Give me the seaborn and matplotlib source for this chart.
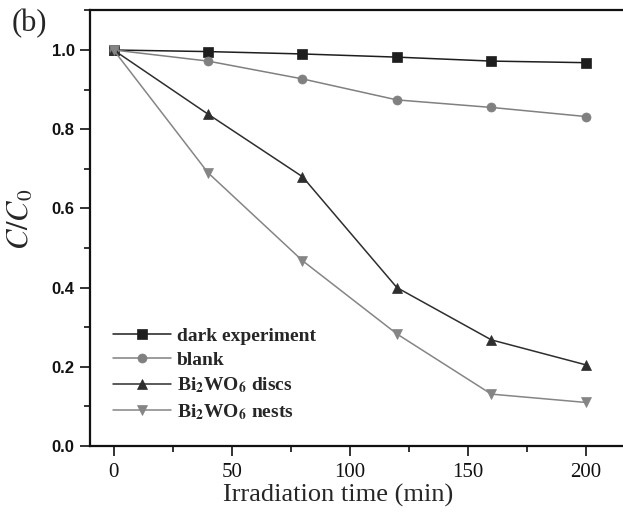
import matplotlib
matplotlib.use("Agg")
import matplotlib.pyplot as plt
from matplotlib.ticker import MultipleLocator
import pandas as pd
import seaborn as sns

# Irradiation times (min) and normalised concentration C/C0 for each run
time_min = [0, 40, 80, 120, 160, 200]
dark_experiment = [1.0, 0.996, 0.990, 0.982, 0.972, 0.968]
blank = [1.0, 0.972, 0.927, 0.874, 0.855, 0.832]
discs = [1.0, 0.838, 0.680, 0.400, 0.268, 0.205]
nests = [1.0, 0.690, 0.468, 0.283, 0.131, 0.110]

series_names = [
    "dark experiment",
    "blank",
    r"Bi$_\mathbf{2}$WO$_\mathbf{6}$ discs",
    r"Bi$_\mathbf{2}$WO$_\mathbf{6}$ nests",
]
series_values = [dark_experiment, blank, discs, nests]
y_tick_labels = ["0.0", "0.2", "0.4", "0.6", "0.8", "1.0"]

rows = []
for name, vals in zip(series_names, series_values):
    for t, v in zip(time_min, vals):
        rows.append({"time": t, "ratio": v, "sample": name})
df = pd.DataFrame(rows)

sns.set_theme(style="ticks")
plt.rcParams["font.family"] = ["Liberation Serif", "DejaVu Serif"]
plt.rcParams["mathtext.fontset"] = "stix"

colors = {
    series_names[0]: "#1e1e1e",
    series_names[1]: "#808080",
    series_names[2]: "#2e2e2e",
    series_names[3]: "#858585",
}
markers = {
    series_names[0]: "s",
    series_names[1]: "o",
    series_names[2]: "^",
    series_names[3]: "v",
}

fig = plt.figure(figsize=(6.23, 5.13), dpi=100)
ax = fig.add_axes([90 / 623, 67 / 513, 543 / 623, 1.1 * 396 / 513])

sns.lineplot(
    data=df, x="time", y="ratio", hue="sample", style="sample",
    palette=colors, markers=markers, dashes=False, markersize=6.5,
    linewidth=1.1, markeredgewidth=0.5, ax=ax, legend=True,
)
for line in ax.get_lines():
    line.set_markeredgecolor(line.get_color())

ax.set_xlim(-10, 220)
ax.set_ylim(0, 1.1)
ax.xaxis.set_major_locator(MultipleLocator(50))
ax.xaxis.set_minor_locator(MultipleLocator(25))
ax.yaxis.set_minor_locator(MultipleLocator(0.1))
ax.tick_params(which="both", direction="out", width=1.2, colors="#111111")
ax.tick_params(which="major", length=7)
ax.tick_params(which="minor", length=4)
ax.tick_params(axis="x", labelsize=15, pad=5)
ax.tick_params(axis="y", labelsize=12, pad=4)
ax.set_yticks([0.0, 0.2, 0.4, 0.6, 0.8, 1.0])
ax.set_yticklabels(y_tick_labels,
                   family=["Liberation Sans", "DejaVu Sans"], fontweight="bold")

for side in ("left", "top", "bottom", "right"):
    ax.spines[side].set_linewidth(1.6)
    ax.spines[side].set_color("#111111")

ax.set_xlabel("Irradiation time (min)", fontsize=19)
ax.xaxis.set_label_coords((338 - 90) / 543, -0.087)
ax.set_ylabel(r"$C/C_0$", fontsize=22)
ax.yaxis.set_label_coords((36 - 90) / 543, 0.52)

ax.legend(
    loc="lower left", bbox_to_anchor=(0.01, 0.015), frameon=False,
    handlelength=3.0, handletextpad=0.3, labelspacing=0.35,
    prop={"family": ["Liberation Serif"], "weight": "bold", "size": 14},
)

fig.text(12 / 623, 1 - 31 / 513, "(b)", fontsize=22, ha="left", va="baseline")

fig.savefig("out.png", dpi=100)
